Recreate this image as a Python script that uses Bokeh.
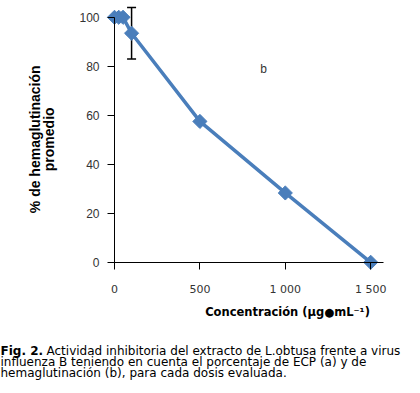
import math
from bokeh.plotting import figure
from bokeh.models import Label, Whisker, ColumnDataSource, FixedTicker
from bokeh.embed import file_html
from bokeh.resources import INLINE

# data
conc = [0, 25, 50, 100, 500, 1000, 1500]
hemag = [100, 100, 100, 93.5, 57.5, 28.3, 0]
err_x = [100]
err_lower = [83]
err_upper = [104]
x_ticks = [0, 500, 1000, 1500]
x_tick_labels = ["0", "500", "1 000", "1 500"]
y_ticks = [0, 20, 40, 60, 80, 100]

caption_bold = "Fig. 2."
caption_lines = [
    "Actividad inhibitoria del extracto de L.obtusa frente a virus",
    "influenza B teniendo en cuenta el porcentaje de ECP (a) y de",
    "hemaglutinación (b), para cada dosis evaluada.",
]

BLUE = "#4a7ebb"
W, H = 412, 385
XS = 85.4 / 500.0   # px per unit x
YS = 2.45           # px per unit y
x0 = -114 / XS
y1 = 261.8 / YS

p = figure(frame_width=W, frame_height=H, x_range=(x0, x0 + W / XS), y_range=(y1 - H / YS, y1),
           output_backend="svg", toolbar_location=None,
           min_border_left=0, min_border_right=0, min_border_top=0, min_border_bottom=0)
p.outline_line_color = None
p.xgrid.visible = False
p.ygrid.visible = False
p.background_fill_color = "white"

for ax in (p.xaxis[0], p.yaxis[0]):
    ax.fixed_location = 0
    ax.axis_line_color = "black"
    ax.major_tick_line_color = "black"
    ax.minor_tick_line_color = None
    ax.major_tick_in = 0
    ax.major_tick_out = 7
    ax.major_label_text_color = "#333333"

p.xaxis[0].ticker = FixedTicker(ticks=x_ticks)
p.xaxis[0].major_label_overrides = {t: l for t, l in zip(x_ticks, x_tick_labels)}
p.xaxis[0].bounds = (-35, 1575)
p.xaxis[0].major_label_text_font = "DejaVu Sans"
p.xaxis[0].major_label_text_font_size = "11px"
p.xaxis[0].major_label_standoff = 14

p.yaxis[0].ticker = FixedTicker(ticks=y_ticks)
p.yaxis[0].bounds = (0, 100)
p.yaxis[0].major_label_text_font = "Liberation Sans"
p.yaxis[0].major_label_text_font_size = "12px"
p.yaxis[0].major_label_standoff = 8

src = ColumnDataSource(dict(x=err_x, lower=err_lower, upper=err_upper))
w = Whisker(source=src, base="x", lower="lower", upper="upper", dimension="height",
            line_color="black", line_width=1.5)
w.upper_head.size = 9
w.lower_head.size = 9
w.upper_head.line_width = 1.5
w.lower_head.line_width = 1.5
p.add_layout(w)

p.line(conc, hemag, line_color=BLUE, line_width=3.5)
p.scatter(conc, hemag, marker="square", angle=math.pi / 4, size=10,
          fill_color=BLUE, line_color=BLUE)

p.add_layout(Label(x=873, y=79, text="b", text_font="Liberation Sans", text_font_size="12px",
                   text_color="#333333", text_align="center", text_baseline="middle"))

p.add_layout(Label(x=1013, y=-20.4, text="Concentración (µg●mL⁻¹)", text_font="DejaVu Sans",
                   text_font_size="11.5px", text_font_style="bold", text_color="black",
                   text_align="center", text_baseline="middle"))

p.add_layout(Label(x=-466, y=50.2, text="% de hemaglutinación", angle=math.pi / 2,
                   text_font="Liberation Sans", text_font_size="14px", text_font_style="bold",
                   text_align="center", text_baseline="middle", text_color="black"))
p.add_layout(Label(x=-383, y=50.2, text="promedio", angle=math.pi / 2,
                   text_font="Liberation Sans", text_font_size="14px", text_font_style="bold",
                   text_align="center", text_baseline="middle", text_color="black"))

# caption (screen units, from frame bottom-left)
base_y = [350, 361, 372]
FS = "12px"
p.add_layout(Label(x=0, y=H - base_y[0], x_units="screen", y_units="screen", text=caption_bold,
                   text_font="DejaVu Sans", text_font_size=FS, text_font_style="bold",
                   text_baseline="alphabetic", text_color="black"))
p.add_layout(Label(x=46, y=H - base_y[0], x_units="screen", y_units="screen", text=caption_lines[0],
                   text_font="DejaVu Sans", text_font_size=FS,
                   text_baseline="alphabetic", text_color="black"))
for i in (1, 2):
    p.add_layout(Label(x=0, y=H - base_y[i], x_units="screen", y_units="screen", text=caption_lines[i],
                       text_font="DejaVu Sans", text_font_size=FS,
                       text_baseline="alphabetic", text_color="black"))

open("out.html", "w").write(file_html(p, INLINE))
